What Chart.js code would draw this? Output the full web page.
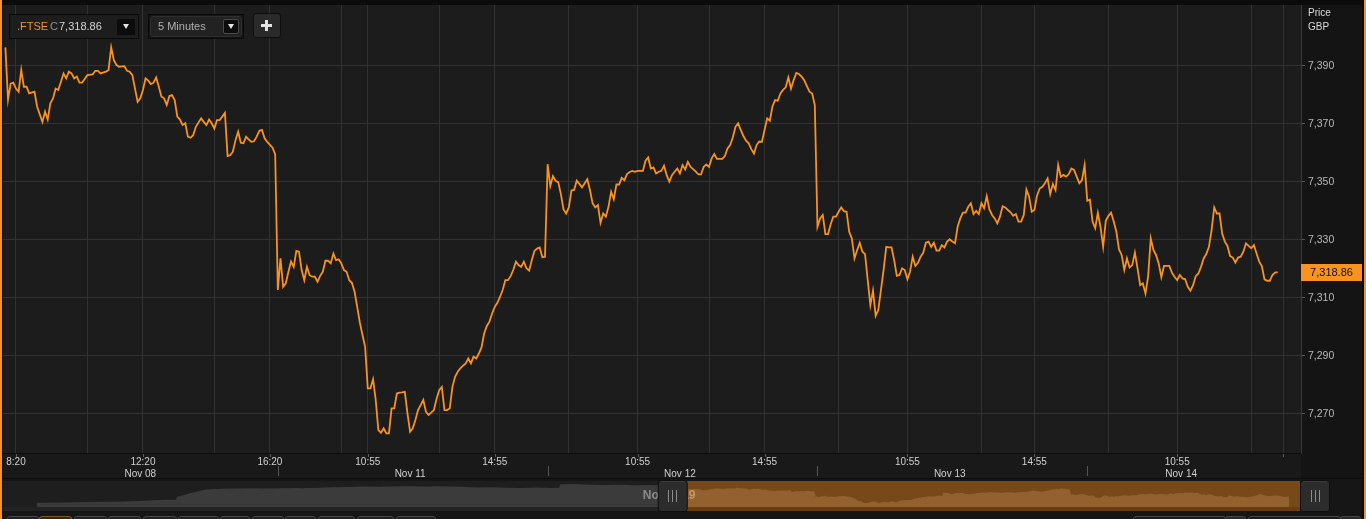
<!DOCTYPE html>
<html>
<head>
<meta charset="utf-8">
<script src="https://cdn.jsdelivr.net/npm/chart.js@4.4.1/dist/chart.umd.min.js"></script>
<style>
html,body{margin:0;padding:0;background:#151515;width:1366px;height:519px;overflow:hidden;font-family:"Liberation Sans",Arial,sans-serif;}
#wrap{position:relative;width:1366px;height:519px;overflow:hidden;}
canvas{position:absolute;left:0;display:block;}
#main{top:0;}
#nav{top:479px;}
.abs{position:absolute;}
.tri{position:absolute;width:0;height:0;border-left:3px solid transparent;border-right:3px solid transparent;border-top:5px solid #e6e6e6;}
.btn{position:absolute;top:516px;height:12px;border:1px solid #474747;border-radius:3px;background:#1f1f1f;box-sizing:border-box;}
</style>
</head>
<body>
<div id="wrap">
  <canvas id="main" width="1366" height="479"></canvas>
  <canvas id="nav" width="1366" height="40"></canvas>

  <!-- toolbar -->
  <div class="abs" style="left:9px;top:14px;width:130px;height:25px;background:#1d1d1d;border:1px solid #0a0a0a;box-sizing:border-box;"></div>
  <div class="abs" style="left:17px;top:20px;font-size:11px;line-height:13px;color:#f7931e;">.FTSE</div>
  <div class="abs" style="left:50px;top:20px;font-size:11px;line-height:13px;color:#8e8e8e;">C</div>
  <div class="abs" style="left:59px;top:20px;font-size:11px;line-height:13px;color:#d4d4d4;">7,318.86</div>
  <div class="abs" style="left:117px;top:19px;width:18px;height:16px;background:#0c0c0c;"></div>
  <div class="tri" style="left:123px;top:24px;"></div>

  <div class="abs" style="left:148px;top:14px;width:96px;height:25px;background:#141414;border:1px solid #0a0a0a;box-sizing:border-box;"></div>
  <div class="abs" style="left:150px;top:16px;width:92px;height:21px;background:#222;border:1px solid #2e2e2e;border-radius:3px;box-sizing:border-box;"></div>
  <div class="abs" style="left:158px;top:20px;font-size:11px;line-height:13px;color:#b0b0b0;">5 Minutes</div>
  <div class="abs" style="left:223px;top:19px;width:16px;height:15px;background:#0c0c0c;border:1px solid #4a4a4a;border-radius:2px;box-sizing:border-box;"></div>
  <div class="tri" style="left:228px;top:24px;"></div>

  <div class="abs" style="left:253px;top:13px;width:28px;height:25px;background:#2a2a2a;border:1px solid #0e0e0e;border-radius:3px;box-sizing:border-box;"></div>
  <div class="abs" style="left:261px;top:24px;width:11px;height:3px;background:#e2e2e2;"></div>
  <div class="abs" style="left:265px;top:20px;width:3px;height:11px;background:#e2e2e2;"></div>

  <!-- bottom range buttons -->
  <div class="btn" style="left:7px;width:32px;"></div>
  <div class="btn" style="left:39px;width:33px;border-color:#7a5a2c;background:#36260f;"></div>
  <div class="btn" style="left:74px;width:33px;"></div>
  <div class="btn" style="left:108px;width:33px;"></div>
  <div class="btn" style="left:143px;width:34px;"></div>
  <div class="btn" style="left:178px;width:41px;"></div>
  <div class="btn" style="left:220px;width:30px;"></div>
  <div class="btn" style="left:252px;width:32px;"></div>
  <div class="btn" style="left:285px;width:31px;"></div>
  <div class="btn" style="left:318px;width:37px;"></div>
  <div class="btn" style="left:357px;width:37px;"></div>
  <div class="btn" style="left:396px;width:40px;"></div>
  <div class="btn" style="left:1133px;width:93px;background:#1b1b1b;"></div>
  <div class="btn" style="left:1225px;width:21px;background:#2a2a2a;"></div>
  <div class="btn" style="left:1248px;width:93px;background:#1b1b1b;"></div>
  <div class="btn" style="left:1340px;width:21px;background:#2a2a2a;"></div>

  <!-- frame borders -->
  <div class="abs" style="left:0;top:0;width:2px;height:519px;background:#f7931e;"></div>
  <div class="abs" style="left:1362px;top:0;width:2px;height:519px;background:#0a0a0a;"></div>
  <div class="abs" style="left:1364px;top:0;width:2px;height:519px;background:#f7931e;"></div>
</div>

<script>
// ---------------- DATA ----------------
// sessions shown in the main chart (5-minute closes, times are bar end times)
const sessionDays = ['Nov 08', 'Nov 11', 'Nov 12', 'Nov 13', 'Nov 14'];

const nov08 = [
 ['08:00',7396.4],['08:05',7378.4],['08:10',7383.9],['08:15',7384.2],['08:20',7382.2],['08:25',7381.1],
 ['08:30',7388.6],['08:35',7382.8],['08:40',7382.8],['08:45',7380.5],['08:55',7381.1],['09:00',7375.9],
 ['09:10',7370.7],['09:15',7374.2],['09:20',7371.5],['09:25',7377.1],['09:30',7378.8],['09:35',7382.2],
 ['09:40',7381.7],['09:50',7387.4],['09:55',7385.7],['10:00',7388.0],['10:05',7387.4],['10:10',7385.7],
 ['10:15',7386.3],['10:20',7384.2],['10:25',7384.2],['10:35',7386.8],['10:45',7387.1],['10:50',7388.3],
 ['10:55',7388.3],['11:00',7387.4],['11:10',7388.0],['11:15',7388.6],['11:20',7396.4],['11:25',7392.0],
 ['11:30',7390.3],['11:35',7389.7],['11:45',7389.9],['11:50',7388.3],['11:55',7388.0],['12:00',7386.8],
 ['12:10',7377.6],['12:15',7378.8],['12:20',7381.7],['12:25',7385.7],['12:30',7384.9],['12:35',7383.7],
 ['12:40',7384.2],['12:45',7386.0],['12:50',7382.8],['12:55',7379.4],['13:00',7378.8],['13:05',7376.5],
 ['13:10',7379.6],['13:15',7379.9],['13:20',7378.2],['13:25',7372.5],['13:30',7371.5],['13:35',7369.6],
 ['13:40',7370.2],['13:45',7365.6],['13:50',7365.2],['13:55',7366.1],['14:00',7369.0],['14:10',7371.9],
 ['14:15',7370.7],['14:20',7369.6],['14:25',7371.5],['14:30',7370.2],['14:35',7368.4],['14:40',7371.3],
 ['14:45',7371.3],['14:50',7372.5],['14:55',7373.8],['15:00',7358.9],['15:05',7359.2],['15:10',7360.4],
 ['15:15',7364.4],['15:20',7367.3],['15:25',7363.5],['15:30',7363.3],['15:35',7365.6],['15:40',7364.6],
 ['15:45',7363.8],['15:50',7364.0],['15:55',7365.6],['16:00',7367.6],['16:05',7367.9],['16:10',7365.0],
 ['16:15',7363.8],['16:25',7361.8],['16:30',7359.5]
];
const nov11 = [
 ['08:05',7312.7],['08:10',7323.6],['08:15',7313.8],['08:20',7315.0],['08:25',7319.0],['08:30',7322.5],
 ['08:35',7320.7],['08:40',7326.2],['08:45',7325.9],['08:50',7319.6],['08:55',7316.1],['09:00',7320.7],
 ['09:05',7317.8],['09:10',7317.3],['09:15',7317.3],['09:20',7315.6],['09:25',7317.6],['09:30',7319.0],
 ['09:35',7322.8],['09:40',7322.8],['09:45',7321.9],['09:50',7325.3],['09:55',7323.0],['10:00',7323.3],
 ['10:05',7321.9],['10:10',7319.6],['10:15',7319.0],['10:20',7316.1],['10:25',7315.2],['10:30',7312.1],
 ['10:35',7306.9],['10:40',7301.5],['10:45',7297.2],['10:50',7293.1],['10:55',7278.8],['11:00',7278.8],
 ['11:05',7281.9],['11:10',7274.8],['11:15',7264.4],['11:20',7263.5],['11:25',7265.0],['11:30',7263.3],
 ['11:35',7263.3],['11:40',7271.9],['11:45',7271.9],['11:50',7277.0],['11:55',7277.3],['12:00',7277.4],
 ['12:05',7277.6],['12:10',7270.2],['12:15',7263.8],['12:20',7265.0],['12:25',7267.9],['12:30',7271.3],
 ['12:35',7273.0],['12:40',7274.8],['12:45',7270.7],['12:50',7269.6],['13:00',7271.3],['13:05',7275.1],
 ['13:10',7278.2],['13:15',7279.3],['13:20',7271.3],['13:25',7271.3],['13:30',7271.9],['13:35',7279.3],
 ['13:40',7282.8],['13:45',7284.5],['13:50',7285.7],['13:55',7286.6],['14:00',7287.4],['14:05',7289.1],
 ['14:10',7287.4],['14:15',7289.7],['14:20',7289.1],['14:25',7290.8],['14:30',7292.9],['14:35',7297.7],
 ['14:40',7300.3],['14:45',7301.8],['14:50',7304.6],['14:55',7306.9],['15:00',7308.3],['15:05',7310.4],
 ['15:10',7312.7],['15:15',7316.1],['15:20',7316.1],['15:25',7317.5],['15:30',7319.6],['15:35',7322.5],
 ['15:40',7321.3],['15:45',7320.7],['15:50',7322.5],['15:55',7320.2],['16:00',7319.4],['16:05',7323.0],
 ['16:10',7326.2],['16:15',7327.0],['16:20',7327.4],['16:25',7324.0],['16:30',7324.2]
];
const nov12 = [
 ['08:05',7356.1],['08:10',7348.6],['08:15',7352.0],['08:20',7350.4],['08:25',7349.9],['08:30',7345.8],
 ['08:35',7340.5],['08:40',7339.1],['08:45',7341.2],['08:50',7347.0],['08:55',7347.2],['09:00',7350.4],
 ['09:05',7349.3],['09:10',7348.1],['09:15',7349.5],['09:20',7350.9],['09:25',7347.2],['09:30',7342.6],
 ['09:35',7341.2],['09:40',7342.0],['09:45',7335.9],['09:50',7339.1],['09:55',7338.0],['10:00',7341.4],
 ['10:05',7346.6],['10:10',7344.0],['10:15',7349.1],['10:20',7349.1],['10:25',7351.4],['10:30',7350.6],
 ['10:35',7352.7],['10:40',7353.4],['10:45',7353.8],['10:50',7353.5],['10:55',7353.8],['11:00',7353.8],
 ['11:05',7353.8],['11:10',7357.3],['11:15',7358.4],['11:20',7354.6],['11:25',7355.0],['11:30',7352.9],
 ['11:35',7353.5],['11:40',7353.8],['11:45',7355.6],['11:50',7352.3],['11:55',7350.1],['12:00',7352.3],
 ['12:05',7353.5],['12:10',7354.6],['12:15',7352.9],['12:20',7355.8],['12:25',7354.3],['12:30',7356.9],
 ['12:35',7355.2],['12:40',7354.4],['12:45',7353.5],['12:50',7352.6],['12:55',7352.6],['13:00',7355.2],
 ['13:05',7356.0],['13:10',7355.2],['13:15',7358.1],['13:20',7359.6],['13:25',7357.9],['13:30',7357.9],
 ['13:35',7357.9],['13:40',7358.9],['13:45',7361.5],['13:50',7362.7],['13:55',7365.3],['14:00',7369.0],
 ['14:05',7370.2],['14:10',7367.9],['14:15',7365.8],['14:20',7364.2],['14:25',7363.3],['14:30',7361.3],
 ['14:35',7359.8],['14:40',7362.7],['14:45',7363.9],['14:50',7363.8],['14:55',7367.9],['15:00',7371.9],
 ['15:05',7371.1],['15:10',7376.1],['15:15',7378.2],['15:20',7378.0],['15:25',7380.5],['15:30',7381.7],
 ['15:35',7382.6],['15:40',7386.0],['15:45',7382.2],['15:50',7385.1],['15:55',7387.6],['16:00',7387.2],
 ['16:05',7386.3],['16:10',7385.1],['16:15',7383.0],['16:20',7381.1],['16:25',7380.5],['16:30',7376.5]
];
const nov13 = [
 ['08:05',7334.5],['08:10',7337.4],['08:15',7338.6],['08:20',7332.0],['08:25',7332.0],['08:30',7335.4],
 ['08:35',7338.0],['08:40',7338.0],['08:45',7339.7],['08:50',7341.2],['08:55',7339.9],['09:00',7339.7],
 ['09:05',7332.8],['09:10',7330.5],['09:15',7323.6],['09:20',7326.5],['09:25',7329.0],['09:30',7325.9],
 ['09:35',7325.1],['09:40',7316.1],['09:45',7307.5],['09:50',7312.5],['09:55',7303.8],['10:00',7305.8],
 ['10:05',7312.7],['10:10',7319.6],['10:15',7327.6],['10:20',7327.4],['10:25',7327.4],['10:30',7323.0],
 ['10:35',7317.6],['10:40',7317.9],['10:45',7320.2],['10:50',7319.6],['10:55',7316.4],['11:00',7319.0],
 ['11:05',7324.2],['11:10',7321.0],['11:15',7322.1],['11:20',7324.2],['11:25',7325.6],['11:30',7329.0],
 ['11:35',7329.4],['11:40',7327.6],['11:45',7329.0],['11:50',7326.3],['11:55',7326.3],['12:00',7328.2],
 ['12:05',7327.4],['12:10',7329.4],['12:15',7330.2],['12:20',7329.4],['12:25',7328.8],['12:30',7334.5],
 ['12:35',7337.4],['12:40',7339.4],['12:45',7339.4],['12:50',7341.4],['12:55',7342.6],['13:00',7338.9],
 ['13:05',7340.0],['13:10',7338.9],['13:15',7342.6],['13:20',7340.9],['13:25',7345.1],['13:30',7340.5],
 ['13:35',7338.6],['13:40',7337.4],['13:45',7335.7],['13:50',7338.0],['13:55',7341.6],['14:00',7341.2],
 ['14:05',7340.3],['14:10',7339.5],['14:15',7338.3],['14:20',7338.9],['14:25',7336.3],['14:30',7336.3],
 ['14:35',7338.6],['14:40',7347.4],['14:45',7344.9],['14:50',7339.7],['14:55',7340.3],['15:00',7345.2],
 ['15:05',7347.7],['15:10',7348.3],['15:15',7349.5],['15:20',7351.2],['15:25',7345.8],['15:30',7349.3],
 ['15:35',7347.2],['15:40',7355.8],['15:45',7351.8],['15:50',7352.4],['15:55',7351.8],['16:00',7352.7],
 ['16:05',7354.6],['16:10',7354.1],['16:15',7351.8],['16:20',7349.5],['16:25',7350.6],['16:30',7355.8]
];
const nov14 = [
 ['08:05',7343.5],['08:10',7343.9],['08:15',7336.3],['08:20',7334.0],['08:25',7339.3],['08:30',7334.5],
 ['08:35',7327.6],['08:40',7336.6],['08:45',7338.3],['08:50',7339.4],['08:55',7336.3],['09:00',7332.8],
 ['09:05',7326.7],['09:10',7324.8],['09:15',7319.6],['09:20',7323.6],['09:25',7320.5],['09:30',7321.3],
 ['09:35',7325.6],['09:40',7320.2],['09:45',7314.4],['09:50',7315.0],['09:55',7311.5],['10:00',7317.3],
 ['10:05',7330.5],['10:10',7326.5],['10:15',7324.8],['10:20',7321.9],['10:25',7317.1],['10:30',7321.0],
 ['10:35',7321.0],['10:40',7321.0],['10:45',7318.7],['10:50',7317.3],['10:55',7316.1],['11:00',7317.9],
 ['11:05',7316.7],['11:10',7316.4],['11:15',7313.8],['11:20',7312.5],['11:25',7314.4],['11:30',7317.5],
 ['11:35',7318.4],['11:40',7320.7],['11:45',7323.6],['11:50',7325.1],['11:55',7327.6],['12:00',7333.4],
 ['12:05',7341.2],['12:10',7339.1],['12:15',7339.1],['12:20',7332.2],['12:25',7329.4],['12:30',7327.9],
 ['12:35',7324.4],['12:40',7323.9],['12:45',7322.2],['12:50',7323.9],['12:55',7324.2],['13:00',7325.9],
 ['13:05',7328.8],['13:10',7327.9],['13:15',7327.1],['13:20',7328.2],['13:25',7325.3],['13:30',7322.5],
 ['13:35',7321.0],['13:40',7316.4],['13:45',7315.9],['13:50',7315.9],['13:55',7317.9],['14:00',7318.7],
 ['14:05',7318.86]
];

// earlier history shown only in the navigator strip
const historyDays = ['Oct 31', 'Nov 01', 'Nov 04', 'Nov 05', 'Nov 06', 'Nov 07'];
const oct31 = [['15:45',7266],['16:30',7266]];
const nov01 = [['08:05',7267],['09:00',7268],['10:00',7270],['11:00',7272],['12:00',7274],['13:00',7278],['14:00',7282],['15:00',7288],['16:00',7291],['16:30',7292]];
const nov04 = [['08:05',7318],['09:00',7350],['10:00',7380],['11:00',7386],['12:00',7388],['13:00',7390],['14:00',7389],['15:00',7391],['16:00',7392],['16:30',7390]];
const nov05 = [['08:05',7392],['09:00',7395],['10:00',7398],['11:00',7400],['12:00',7404],['13:00',7403],['14:00',7406],['15:00',7407],['16:00',7405],['16:30',7406]];
const nov06 = [['08:05',7407],['09:00',7405],['10:00',7402],['11:00',7396],['12:00',7398],['13:00',7394],['14:00',7392],['15:00',7396],['16:00',7393],['16:30',7395]];
const nov07 = [['08:05',7424],['09:00',7426],['10:00',7421],['11:00',7418],['12:00',7420],['13:00',7416],['14:00',7418],['15:00',7414],['16:00',7416],['16:30',7415]];

// axis ticks
const priceTicks = [7270, 7290, 7310, 7330, 7350, 7370, 7390];
const timeTickLabels = [
 ['Nov 08','8:20'],['Nov 08','12:20'],['Nov 08','16:20'],
 ['Nov 11','10:55'],['Nov 11','14:55'],
 ['Nov 12','10:55'],['Nov 12','14:55'],
 ['Nov 13','10:55'],['Nov 13','14:55'],
 ['Nov 14','10:55']
];
const minorTimeTicks = [
 ['Nov 08','10:35'],['Nov 08','14:35'],['Nov 11','10:05'],['Nov 11','13:10'],
 ['Nov 12','08:45'],['Nov 12','13:10'],['Nov 13','08:45'],['Nov 13','13:15'],
 ['Nov 14','08:45'],['Nov 14','13:15'],['Nov 14','14:15']
];
const currencyLabel = ['Price', 'GBP'];
const navLabel = 'Nov 2019';

// ---------------- HELPERS ----------------
const SESSION_LEN = 510; // 08:00 - 16:30 trading minutes
function tradingMinute(dayIdx, hhmm) {
  const [h, m] = hhmm.split(':').map(Number);
  return dayIdx * SESSION_LEN + (h * 60 + m - 480);
}
const sessions = [nov08, nov11, nov12, nov13, nov14];
const mainPoints = [];
sessions.forEach((day, k) => day.forEach(([t, p]) => mainPoints.push({x: tradingMinute(k, t), y: p})));
const historySessions = [oct31, nov01, nov04, nov05, nov06, nov07];
const historyPoints = [];
historySessions.forEach((day, k) => day.forEach(([t, p]) => historyPoints.push({x: tradingMinute(k - historySessions.length, t), y: p})));
const tickMinute = ([d, t]) => tradingMinute(sessionDays.indexOf(d), t.length === 4 ? '0' + t : t);
const gridMinutes = timeTickLabels.concat(minorTimeTicks).map(tickMinute).sort((a, b) => a - b);
const lastPoint = mainPoints[mainPoints.length - 1];

const FONT = '"Liberation Sans", Arial, sans-serif';
const ORANGE = '#f7931e';

// ---------------- MAIN CHART ----------------
const mainDecor = {
  id: 'mainDecor',
  beforeDraw(chart) {
    const {ctx, chartArea: a, width, height} = chart;
    ctx.save();
    ctx.fillStyle = '#141414'; ctx.fillRect(0, 0, width, height);
    ctx.fillStyle = '#0b0b0b'; ctx.fillRect(0, 0, width, a.top);
    ctx.fillStyle = '#1c1c1c'; ctx.fillRect(a.left, a.top, a.right - a.left, a.bottom - a.top);
    ctx.fillStyle = '#191919'; ctx.fillRect(a.left, a.bottom, a.right - a.left, height - a.bottom);
    ctx.fillStyle = '#0c0c0c';
    ctx.fillRect(a.left, a.bottom, a.right - a.left, 1);
    ctx.fillRect(0, height - 1, width, 1);
    ctx.restore();
  },
  afterDraw(chart) {
    const {ctx, chartArea: a} = chart;
    const xs = chart.scales.x, ys = chart.scales.y;
    ctx.save();
    // tick marks below plot
    ctx.strokeStyle = '#5c5c5c'; ctx.lineWidth = 1;
    timeTickLabels.concat([minorTimeTicks[minorTimeTicks.length - 1]]).forEach(tk => {
      const px = Math.round(xs.getPixelForValue(tickMinute(tk))) + 0.5;
      ctx.beginPath(); ctx.moveTo(px, a.bottom + 1); ctx.lineTo(px, a.bottom + 4); ctx.stroke();
    });
    // time labels
    ctx.font = '10px ' + FONT; ctx.fillStyle = '#d0d0d0';
    ctx.textAlign = 'center'; ctx.textBaseline = 'middle';
    timeTickLabels.forEach(tk => ctx.fillText(tk[1], xs.getPixelForValue(tickMinute(tk)), a.bottom + 9.5));
    // date labels centred on each session
    sessionDays.forEach((d, k) => {
      const start = xs.getPixelForValue(k * SESSION_LEN);
      const end = k === sessionDays.length - 1 ? xs.getPixelForValue(lastPoint.x) : xs.getPixelForValue((k + 1) * SESSION_LEN);
      ctx.fillText(d, (start + end) / 2, a.bottom + 21);
    });
    // session separators
    ctx.strokeStyle = '#555';
    for (let k = 1; k < sessionDays.length; k++) {
      const px = Math.round(xs.getPixelForValue(k * SESSION_LEN + 5)) + 0.5;
      ctx.beginPath(); ctx.moveTo(px, a.bottom + 13); ctx.lineTo(px, a.bottom + 23); ctx.stroke();
    }
    // currency label
    ctx.textAlign = 'left'; ctx.fillStyle = '#dadada';
    ctx.fillText(currencyLabel[0], a.right + 7, 13);
    ctx.fillText(currencyLabel[1], a.right + 7, 27);
    // last price tag
    const py = ys.getPixelForValue(lastPoint.y);
    ctx.fillStyle = ORANGE;
    ctx.fillRect(a.right, Math.round(py - 8.5), 61, 17);
    ctx.fillStyle = '#111';
    ctx.font = '11px ' + FONT; ctx.textAlign = 'center';
    ctx.fillText(lastPoint.y.toLocaleString('en-US', {minimumFractionDigits: 2}), a.right + 30.5, Math.round(py - 8.5) + 9);
    ctx.restore();
  }
};

new Chart(document.getElementById('main'), {
  type: 'line',
  data: {datasets: [{data: mainPoints, borderColor: ORANGE, borderWidth: 1.8, pointRadius: 0, fill: false, tension: 0}]},
  options: {
    responsive: false, animation: false, events: [],
    layout: {padding: {left: 3, top: 5, right: 0, bottom: 0}},
    plugins: {legend: {display: false}, tooltip: {enabled: false}},
    scales: {
      x: {
        type: 'linear', min: -4.5, max: 2449,
        afterBuildTicks: ax => { ax.ticks = gridMinutes.map(v => ({value: v})); },
        afterFit: ax => { ax.height = 26; ax.paddingLeft = 0; ax.paddingRight = 0; },
        grid: {color: '#323232', lineWidth: 1, drawTicks: false},
        border: {display: false},
        ticks: {display: false}
      },
      y: {
        type: 'linear', position: 'right', min: 7256.5, max: 7411,
        afterBuildTicks: ax => { ax.ticks = priceTicks.map(v => ({value: v})); },
        afterFit: ax => { ax.width = 65; ax.paddingTop = 0; ax.paddingBottom = 0; },
        grid: {color: '#323232', lineWidth: 1, tickLength: 4, tickColor: '#555'},
        border: {display: true, color: '#3a3a3a'},
        ticks: {color: '#b8b8b8', padding: 3, font: {family: FONT, size: 10.5},
                callback: v => Number(v).toLocaleString('en-US')}
      }
    }
  },
  plugins: [mainDecor]
});

// ---------------- NAVIGATOR ----------------
const navDecor = {
  id: 'navDecor',
  beforeDraw(chart) {
    const {ctx, width, height} = chart;
    const x0 = chart.scales.x.getPixelForValue(0);
    const right = chart.chartArea.right;
    ctx.save();
    ctx.fillStyle = '#161616'; ctx.fillRect(0, 0, width, height);
    ctx.fillStyle = '#1e1e1e'; ctx.fillRect(3, 2, right - 3, 30);
    ctx.fillStyle = '#774919'; ctx.fillRect(x0, 2, right - x0, 30);
    ctx.fillStyle = '#232323'; ctx.fillRect(3, 28, x0 - 3, 4);
    ctx.fillStyle = '#6a3d10'; ctx.fillRect(x0, 28, right - x0, 4);
    ctx.restore();
  },
  afterDraw(chart) {
    const {ctx} = chart;
    const x0 = chart.scales.x.getPixelForValue(0);
    const right = chart.chartArea.right;
    ctx.save();
    ctx.font = 'bold 12px ' + FONT; ctx.textBaseline = 'middle'; ctx.textAlign = 'left';
    const tx = x0 - 44;
    ctx.fillStyle = '#8a8a8a'; ctx.fillText(navLabel, tx, 16.5);
    ctx.beginPath(); ctx.rect(x0, 0, 200, 40); ctx.clip();
    ctx.fillStyle = '#c99258'; ctx.fillText(navLabel, tx, 16.5);
    ctx.restore();
    const handle = (hx) => {
      ctx.save();
      ctx.beginPath(); ctx.roundRect(hx + 0.5, 1.5, 29, 31, 3);
      ctx.fillStyle = '#2c2c2c'; ctx.fill();
      ctx.strokeStyle = '#0e0e0e'; ctx.lineWidth = 1; ctx.stroke();
      ctx.strokeStyle = '#3e3e3e';
      ctx.beginPath(); ctx.moveTo(hx + 3, 2.5); ctx.lineTo(hx + 27, 2.5); ctx.stroke();
      ctx.strokeStyle = '#8a8a8a';
      const cx = Math.round(hx + 14.5);
      [-4, 0, 4].forEach(d => { ctx.beginPath(); ctx.moveTo(cx + d + 0.5, 11); ctx.lineTo(cx + d + 0.5, 23); ctx.stroke(); });
      ctx.restore();
    };
    handle(x0 - 29);
    handle(right);
  }
};

new Chart(document.getElementById('nav'), {
  type: 'line',
  data: {datasets: [
    {data: historyPoints, borderColor: 'rgba(0,0,0,0)', borderWidth: 0, pointRadius: 0, fill: 'start', backgroundColor: '#3b3b3b', tension: 0},
    {data: mainPoints, borderColor: 'rgba(0,0,0,0)', borderWidth: 0, pointRadius: 0, fill: 'start', backgroundColor: '#93602f', tension: 0}
  ]},
  options: {
    responsive: false, animation: false, events: [],
    layout: {padding: {left: 37, right: 66, top: 2, bottom: 12}},
    plugins: {legend: {display: false}, tooltip: {enabled: false}},
    scales: {
      x: {type: 'linear', display: false, min: -2595, max: 2449},
      y: {type: 'linear', display: false, min: 7230, max: 7452}
    }
  },
  plugins: [navDecor]
});
</script>
</body>
</html>
